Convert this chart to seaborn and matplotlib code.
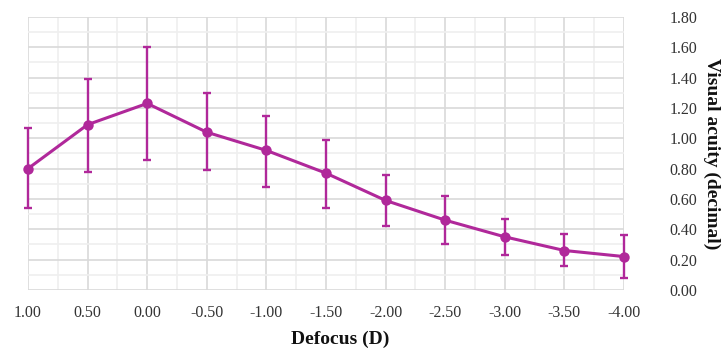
import matplotlib
matplotlib.use("Agg")
import matplotlib.pyplot as plt
import seaborn as sns
import numpy as np
import pandas as pd
from matplotlib.ticker import MultipleLocator, FormatStrFormatter

defocus = [1.0, 0.5, 0.0, -0.5, -1.0, -1.5, -2.0, -2.5, -3.0, -3.5, -4.0]
acuity = [0.80, 1.09, 1.23, 1.04, 0.92, 0.77, 0.59, 0.46, 0.35, 0.26, 0.22]
err_upper = [0.27, 0.30, 0.37, 0.26, 0.23, 0.22, 0.17, 0.16, 0.12, 0.11, 0.14]
err_lower = [0.26, 0.31, 0.37, 0.25, 0.24, 0.23, 0.17, 0.16, 0.12, 0.10, 0.14]

sns.set_theme(style="white")
plt.rcParams['font.family'] = ['Liberation Serif', 'DejaVu Serif']

color = "#B0289A"
df = pd.DataFrame({"Defocus": defocus, "Acuity": acuity})

fig = plt.figure(figsize=(7.23, 3.51), dpi=100)
ax = fig.add_axes([0.0387, 0.174, 0.8244, 0.7776])

ax.xaxis.set_major_locator(MultipleLocator(0.5))
ax.xaxis.set_minor_locator(MultipleLocator(0.25))
ax.yaxis.set_major_locator(MultipleLocator(0.2))
ax.yaxis.set_minor_locator(MultipleLocator(0.1))
ax.grid(which="major", color="#d9d9d9", linewidth=1.2, zorder=0)
ax.grid(which="minor", color="#efefef", linewidth=1.2, zorder=0)
ax.set_axisbelow(True)

eb = ax.errorbar(defocus, acuity, yerr=[err_lower, err_upper], fmt="none",
                 ecolor=color, elinewidth=1.7, capsize=3, capthick=1.7,
                 zorder=3)
for art in eb.lines[1]:
    art.set_clip_on(False)
for art in eb.lines[2]:
    art.set_clip_on(False)
sns.lineplot(data=df, x="Defocus", y="Acuity", ax=ax, color=color,
             linewidth=2.2, marker="o", markersize=7.5, markeredgewidth=0,
             zorder=4, clip_on=False)

ax.set_xlim(1.0, -4.0)
ax.set_ylim(0, 1.8)
ax.xaxis.set_major_formatter(FormatStrFormatter("%.2f"))
ax.yaxis.set_major_formatter(FormatStrFormatter("%.2f"))
ax.yaxis.tick_right()
ax.yaxis.set_label_position("right")
ax.tick_params(axis="both", which="both", length=0, labelsize=11.5,
               colors="#333333")
ax.tick_params(axis="x", pad=11)
ax.tick_params(axis="y", pad=33)
for s in ax.spines.values():
    s.set_visible(False)

ax.set_xlabel("Defocus (D)", fontsize=14, fontweight="bold",
              color="#111111")
ax.xaxis.set_label_coords(0.5235, -0.15)
ax.set_ylabel("Visual acuity (decimal)", fontsize=14, fontweight="bold",
              rotation=-90, color="#111111")
ax.yaxis.set_label_coords(1.162, 0.5)

fig.savefig("out.png", dpi=100)
